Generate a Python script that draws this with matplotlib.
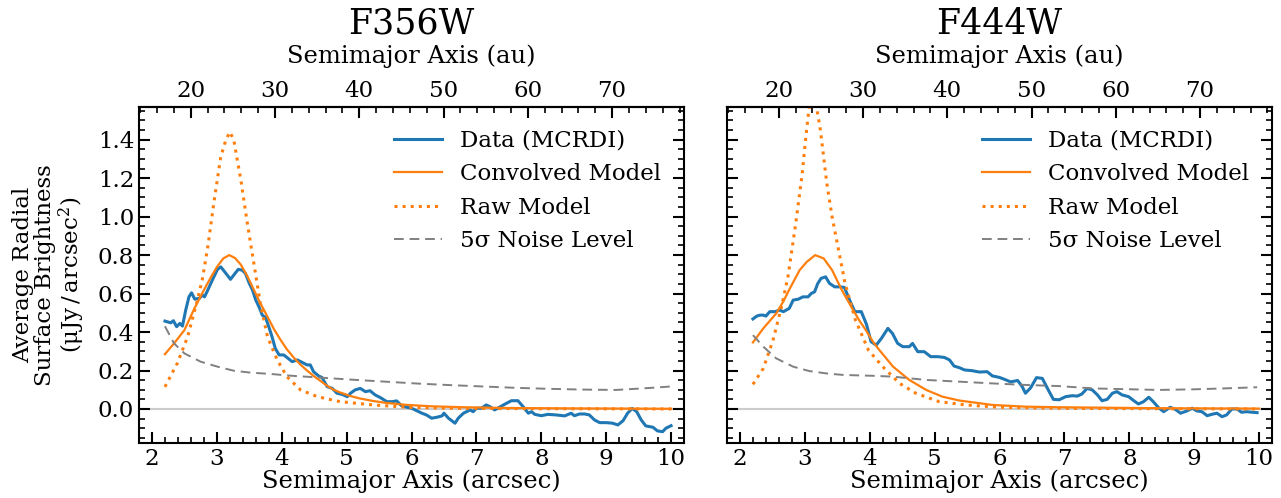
import matplotlib
matplotlib.use('Agg')
from matplotlib import pyplot as plt
from matplotlib.ticker import MultipleLocator, FixedLocator

plt.rcParams['font.family'] = ['DejaVu Serif']
plt.rcParams['mathtext.fontset'] = 'dejavuserif'

dist_pc = 7.7  # arcsec -> au
au_ticks = [20, 30, 40, 50, 60, 70]

# ---- F356W ----
f356_data_x = [2.2, 2.29, 2.33, 2.38, 2.43, 2.47, 2.52, 2.57, 2.61, 2.66, 2.73, 2.78, 2.81, 2.86,
               2.93, 3.01, 3.06, 3.10, 3.16, 3.21, 3.26, 3.33, 3.39, 3.44, 3.50, 3.55, 3.60, 3.65,
               3.70, 3.75, 3.80, 3.85, 3.90, 3.96, 4.03, 4.08, 4.16, 4.24, 4.31, 4.39, 4.44, 4.49,
               4.57, 4.62, 4.70, 4.78, 4.85, 4.93, 5.01, 5.06, 5.13, 5.21, 5.29, 5.36, 5.44, 5.52,
               5.62, 5.70, 5.77, 5.85, 5.93, 6.00, 6.08, 6.16, 6.23, 6.31, 6.39, 6.47, 6.50, 6.57,
               6.62, 6.67, 6.72, 6.80, 6.85, 6.90, 6.95, 7.00, 7.08, 7.15, 7.21, 7.28, 7.36, 7.46,
               7.54, 7.64, 7.72, 7.80, 7.85, 7.90, 8.00, 8.10, 8.23, 8.36, 8.46, 8.51, 8.59, 8.67,
               8.74, 8.82, 8.90, 9.00, 9.10, 9.18, 9.26, 9.33, 9.40, 9.47, 9.54, 9.61, 9.72, 9.79,
               9.87, 9.92, 10.0]
f356_data_y = [0.457, 0.448, 0.459, 0.428, 0.445, 0.431, 0.514, 0.583, 0.604, 0.571, 0.575, 0.592,
               0.583, 0.618, 0.670, 0.726, 0.739, 0.722, 0.696, 0.674, 0.696, 0.726, 0.722, 0.705,
               0.653, 0.618, 0.566, 0.531, 0.488, 0.476, 0.428, 0.376, 0.315, 0.281, 0.281, 0.268,
               0.246, 0.255, 0.243, 0.229, 0.229, 0.194, 0.171, 0.164, 0.116, 0.107, 0.082, 0.076,
               0.064, 0.082, 0.099, 0.107, 0.090, 0.095, 0.073, 0.059, 0.038, 0.038, 0.042, 0.016,
               0.009, 0.004, -0.009, -0.022, -0.031, -0.048, -0.043, -0.036, -0.022, -0.048, -0.061,
               -0.074, -0.048, -0.022, -0.014, -0.005, -0.014, 0.004, 0.004, 0.021, 0.012, -0.005,
               0.010, 0.029, 0.043, 0.043, 0.012, -0.022, -0.014, -0.028, -0.035, -0.028, -0.031,
               -0.036, -0.022, -0.035, -0.026, -0.026, -0.031, -0.057, -0.071, -0.071, -0.074,
               -0.083, -0.061, -0.022, 0.003, -0.014, -0.057, -0.088, -0.095, -0.114, -0.118,
               -0.100, -0.087]
f356_conv_x = [2.2, 2.35, 2.5, 2.65, 2.8, 2.9, 3.0, 3.1, 3.19, 3.28, 3.37, 3.47, 3.57, 3.67, 3.78,
               3.88, 3.98, 4.08, 4.19, 4.29, 4.39, 4.49, 4.6, 4.7, 4.8, 4.9, 5.05, 5.2, 5.4, 5.6,
               5.9, 6.3, 6.8, 7.5, 8.5, 10.0]
f356_conv_y = [0.285, 0.345, 0.41, 0.52, 0.618, 0.68, 0.738, 0.783, 0.80, 0.785, 0.75, 0.69, 0.62,
               0.55, 0.48, 0.415, 0.36, 0.31, 0.265, 0.23, 0.20, 0.172, 0.145, 0.12, 0.10, 0.086,
               0.068, 0.055, 0.042, 0.032, 0.022, 0.014, 0.009, 0.005, 0.003, 0.001]
f356_raw_x = [2.2, 2.39, 2.55, 2.70, 2.78, 2.86, 2.96, 3.06, 3.14, 3.20, 3.26, 3.37, 3.47, 3.57,
              3.67, 3.78, 3.93, 4.08, 4.29, 4.55, 4.90, 5.41, 5.93, 6.5, 7.5, 10.0]
f356_raw_y = [0.115, 0.237, 0.376, 0.566, 0.68, 0.843, 1.086, 1.311, 1.40, 1.44, 1.40, 1.19, 0.965,
              0.757, 0.549, 0.376, 0.255, 0.168, 0.099, 0.064, 0.038, 0.021, 0.009, 0.004, 0.002, 0.0]
f356_noise_x = [2.2, 2.34, 2.50, 2.75, 3.01, 3.26, 3.52, 3.83, 4.14, 4.60, 5.10, 5.60, 6.10, 6.60,
                7.10, 7.60, 8.10, 8.60, 9.15, 9.41, 9.7, 10.0]
f356_noise_y = [0.43, 0.341, 0.289, 0.246, 0.220, 0.199, 0.189, 0.182, 0.173, 0.163, 0.152, 0.142,
                0.132, 0.124, 0.117, 0.110, 0.105, 0.101, 0.099, 0.104, 0.110, 0.117]

# ---- F444W ----
f444_data_x = [2.20, 2.26, 2.31, 2.36, 2.40, 2.46, 2.54, 2.61, 2.67, 2.76, 2.82, 2.90, 2.97, 3.05,
               3.10, 3.15, 3.20, 3.25, 3.32, 3.38, 3.46, 3.54, 3.61, 3.69, 3.77, 3.87, 3.95, 4.02,
               4.10, 4.18, 4.28, 4.35, 4.43, 4.51, 4.61, 4.66, 4.74, 4.84, 4.94, 5.05, 5.15, 5.23,
               5.30, 5.38, 5.46, 5.58, 5.69, 5.81, 5.89, 6.00, 6.10, 6.17, 6.28, 6.35, 6.40, 6.48,
               6.57, 6.66, 6.75, 6.83, 6.92, 7.02, 7.12, 7.20, 7.27, 7.35, 7.43, 7.51, 7.58, 7.66,
               7.74, 7.81, 7.89, 7.99, 8.07, 8.14, 8.22, 8.30, 8.37, 8.45, 8.53, 8.63, 8.71, 8.79,
               8.89, 8.97, 9.04, 9.12, 9.20, 9.27, 9.35, 9.43, 9.50, 9.58, 9.66, 9.73, 9.81, 9.89,
               9.97]
f444_data_y = [0.468, 0.483, 0.488, 0.488, 0.483, 0.506, 0.506, 0.514, 0.506, 0.523, 0.566, 0.571,
               0.583, 0.583, 0.601, 0.609, 0.653, 0.679, 0.687, 0.653, 0.635, 0.635, 0.632, 0.566,
               0.506, 0.506, 0.440, 0.350, 0.332, 0.367, 0.419, 0.393, 0.341, 0.324, 0.324, 0.341,
               0.298, 0.298, 0.272, 0.272, 0.268, 0.255, 0.223, 0.215, 0.203, 0.199, 0.192, 0.194,
               0.172, 0.164, 0.151, 0.141, 0.148, 0.116, 0.082, 0.110, 0.163, 0.159, 0.100, 0.050,
               0.048, 0.064, 0.069, 0.067, 0.078, 0.107, 0.099, 0.073, 0.043, 0.050, 0.082, 0.090,
               0.073, 0.064, 0.043, 0.026, 0.038, 0.061, 0.038, 0.007, -0.014, 0.009, -0.002,
               -0.022, -0.010, 0.004, -0.010, -0.014, -0.035, -0.028, -0.022, -0.040, -0.031, 0.0,
               0.0, -0.017, -0.014, -0.017, -0.019]
f444_conv_x = [2.2, 2.36, 2.56, 2.67, 2.77, 2.92, 3.03, 3.16, 3.29, 3.42, 3.57, 3.73, 3.84, 3.94,
               4.05, 4.14, 4.36, 4.61, 4.87, 5.12, 5.38, 5.89, 6.40, 6.92, 8.45, 10.0]
f444_conv_y = [0.346, 0.419, 0.497, 0.56, 0.627, 0.722, 0.765, 0.80, 0.783, 0.722, 0.618, 0.523,
               0.46, 0.41, 0.35, 0.31, 0.220, 0.151, 0.099, 0.064, 0.044, 0.021, 0.012, 0.009,
               0.004, 0.002]
f444_raw_x = [2.2, 2.36, 2.51, 2.64, 2.74, 2.86, 2.96, 3.01, 3.06, 3.12, 3.19, 3.24, 3.29, 3.34,
              3.42, 3.52, 3.62, 3.78, 3.98, 4.20, 4.46, 4.71, 5.07, 5.48, 6.0, 7.0, 10.0]
f444_raw_y = [0.128, 0.211, 0.358, 0.531, 0.687, 0.965, 1.224, 1.397, 1.55, 1.70, 1.55, 1.45, 1.31,
              1.17, 1.0, 0.826, 0.653, 0.462, 0.306, 0.220, 0.133, 0.082, 0.038, 0.021, 0.009,
              0.003, 0.0]
f444_noise_x = [2.2, 2.36, 2.56, 2.82, 3.07, 3.33, 3.59, 4.10, 4.36, 4.87, 5.38, 5.89, 6.40, 6.92,
                7.43, 8.45, 8.97, 9.47, 9.97]
f444_noise_y = [0.384, 0.324, 0.263, 0.220, 0.197, 0.185, 0.177, 0.172, 0.168, 0.151, 0.142, 0.133,
                0.125, 0.119, 0.107, 0.099, 0.102, 0.107, 0.113]

panels = [
    ('F356W', f356_data_x, f356_data_y, f356_conv_x, f356_conv_y, f356_raw_x, f356_raw_y,
     f356_noise_x, f356_noise_y),
    ('F444W', f444_data_x, f444_data_y, f444_conv_x, f444_conv_y, f444_raw_x, f444_raw_y,
     f444_noise_x, f444_noise_y),
]

fig = plt.figure(figsize=(12.81, 4.98), dpi=100)
ax1 = fig.add_axes([0.1085, 0.1104, 0.4255, 0.6747])
ax2 = fig.add_axes([0.5675, 0.1104, 0.4255, 0.6747])

for ax, (name, dx, dy, cx, cy, rx, ry, nx, ny) in zip([ax1, ax2], panels):
    ax.axhline(0, color='0.8', lw=1.5, zorder=0)
    ax.plot(dx, dy, color='tab:blue', lw=2.2, label='Data (MCRDI)')
    ax.plot(cx, cy, color='tab:orange', lw=1.6, label='Convolved Model')
    ax.plot(rx, ry, color='tab:orange', lw=2.2, ls=':', label='Raw Model')
    ax.plot(nx, ny, color='gray', lw=1.4, ls=(0, (5, 3)), label='5σ Noise Level')
    ax.set_xlim(1.8, 10.2)
    ax.set_ylim(-0.177, 1.57)
    ax.xaxis.set_major_locator(MultipleLocator(1))
    ax.xaxis.set_minor_locator(MultipleLocator(0.2))
    ax.yaxis.set_major_locator(MultipleLocator(0.2))
    ax.yaxis.set_minor_locator(MultipleLocator(0.05))
    ax.tick_params(which='both', direction='in', top=False, right=True, labelsize=16.5)
    ax.tick_params(which='major', length=8, width=1.5)
    ax.tick_params(which='minor', length=4, width=1.2)
    for s in ax.spines.values():
        s.set_linewidth(1.5)
    ax.set_xlabel('Semimajor Axis (arcsec)', fontsize=17.5, labelpad=0)

    sec = ax.secondary_xaxis('top', functions=(lambda x: x * dist_pc, lambda x: x / dist_pc))
    sec.xaxis.set_major_locator(FixedLocator(au_ticks))
    sec.xaxis.set_minor_locator(MultipleLocator(2))
    sec.tick_params(which='both', direction='in', labelsize=16.5)
    sec.tick_params(which='major', length=8, width=1.5)
    sec.tick_params(which='minor', length=4, width=1.2)
    sec.spines['top'].set_linewidth(1.5)
    sec.set_xlabel('Semimajor Axis (au)', fontsize=17.5, labelpad=12)
    ax.set_title(name, fontsize=25, pad=8)

    ax.legend(loc='upper right', frameon=False, fontsize=16.5, handlelength=2.1,
              labelspacing=0.5, borderaxespad=0.6)

ax1.set_ylabel('Average Radial\nSurface Brightness\n($\\mathrm{\\mu Jy\\,/\\,arcsec^2}$)',
               fontsize=16.5, labelpad=8, linespacing=1.0)
ax2.tick_params(labelleft=False)

plt.savefig('out.png', dpi=100)
